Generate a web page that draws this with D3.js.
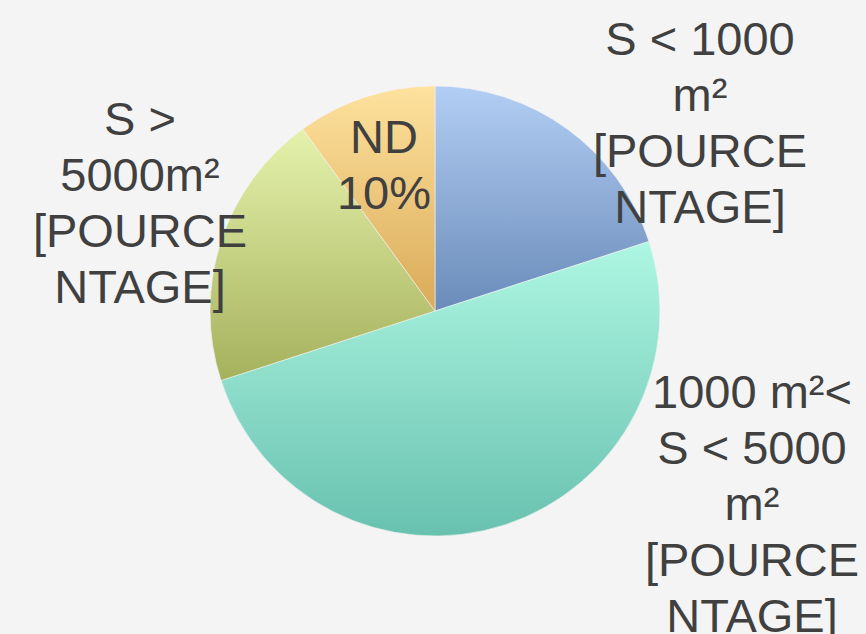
<!DOCTYPE html>
<html>
<head>
<meta charset="utf-8">
<script src="https://cdn.jsdelivr.net/npm/d3@7"></script>
<style>
  html, body { margin: 0; padding: 0; background: #f4f4f4; }
  svg { display: block; }
</style>
</head>
<body>
<div id="chart"></div>
<script>
// slices, clockwise from 12 o'clock
var categories = ["S < 1000 m²", "1000 m²< S < 5000 m²", "S > 5000m²", "ND"];
var values = [20, 50, 20, 10];
// label lines as wrapped in the picture
var label_lines = [
	["S < 1000", "m²", "[POURCE", "NTAGE]"],
	["1000 m²<", "S < 5000", "m²", "[POURCE", "NTAGE]"],
	["S >", "5000m²", "[POURCE", "NTAGE]"],
	["ND", "10%"]
];
var top_colours = ["#b2cef4", "#aef7e2", "#e5f2ac", "#fee29e"];
var bottom_colours = ["#6a8bb9", "#68c1af", "#a5b15c", "#daaa58"];

var width = 866, height = 634;
var cx = 435, cy = 311, radius = 225;

// where each label block sits: [center x, first baseline]
var label_pos = [[700, 55], [752, 408], [140, 135], [384, 153]];
var line_h = 56;

var svg = d3.select("#chart").append("svg")
	.attr("width", width)
	.attr("height", height);

svg.append("rect")
	.attr("width", width)
	.attr("height", height)
	.attr("fill", "#f4f4f4");

var defs = svg.append("defs");
categories.forEach(function(c, i){
	var g = defs.append("linearGradient")
		.attr("id", "grad" + i)
		.attr("x1", 0).attr("y1", 0)
		.attr("x2", 0).attr("y2", 1);
	g.append("stop").attr("offset", "0%").attr("stop-color", top_colours[i]);
	g.append("stop").attr("offset", "100%").attr("stop-color", bottom_colours[i]);
});

var pie = d3.pie().sort(null).value(function(d){ return d; });
var arc = d3.arc().innerRadius(0).outerRadius(radius);

var g = svg.append("g")
	.attr("transform", "translate(" + cx + "," + cy + ")");

g.selectAll("path")
	.data(pie(values))
	.enter().append("path")
	.attr("d", arc)
	.attr("fill", function(d, i){ return "url(#grad" + i + ")"; })
	.attr("stroke", "#f4f4f4")
	.attr("stroke-width", 0.6);

// labels
label_lines.forEach(function(lines, i){
	var t = svg.append("text")
		.attr("text-anchor", "middle")
		.attr("font-family", "'Liberation Sans', Arial, sans-serif")
		.attr("font-size", 47)
		.attr("fill", "#404040");
	lines.forEach(function(l, j){
		t.append("tspan")
			.attr("x", label_pos[i][0])
			.attr("y", label_pos[i][1] + j * line_h)
			.text(l);
	});
});
</script>
</body>
</html>
